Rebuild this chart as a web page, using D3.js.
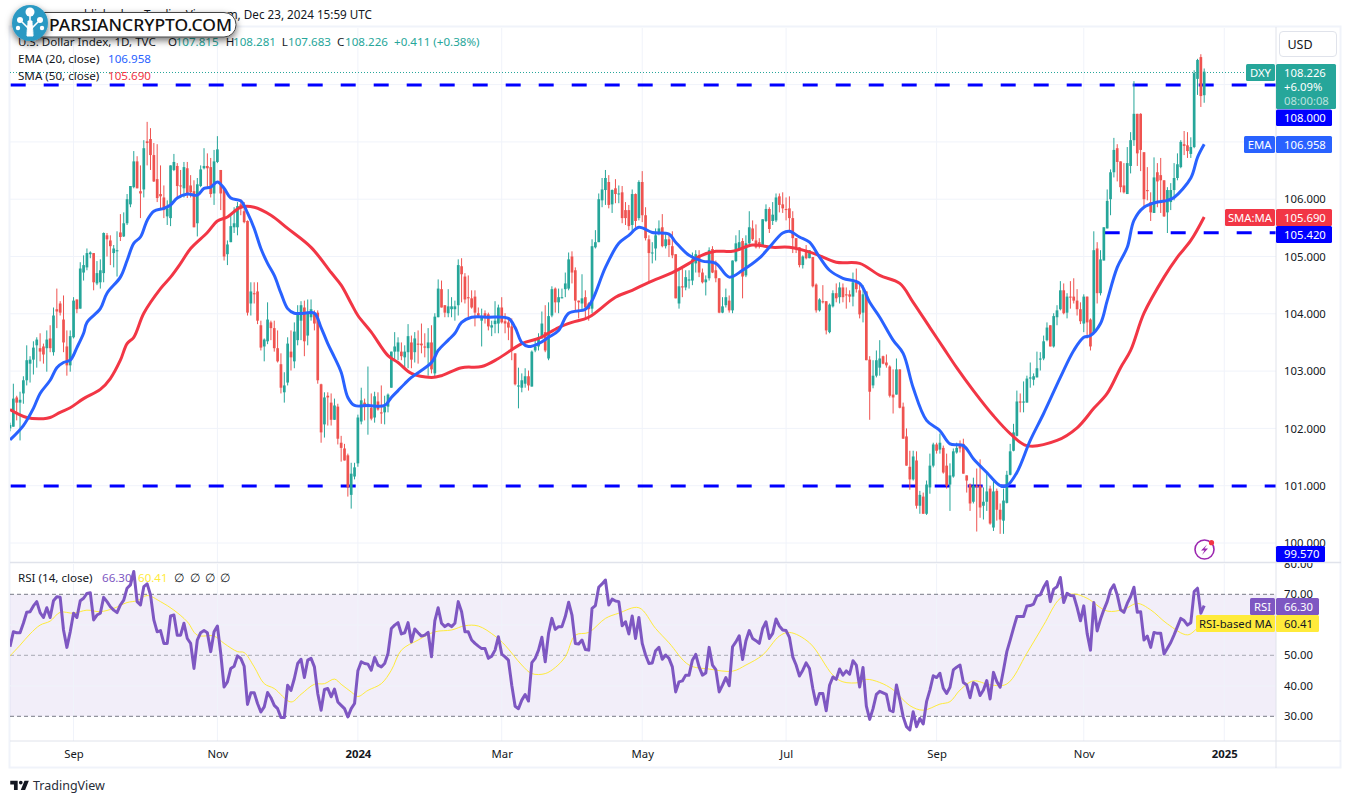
<!DOCTYPE html>
<html>
<head>
<meta charset="utf-8">
<script src="https://cdnjs.cloudflare.com/ajax/libs/d3/7.8.5/d3.min.js"></script>
<style>
html,body{margin:0;padding:0;background:#fff;overflow:hidden}
text{font-family:"Noto Sans",sans-serif}
</style>
</head>
<body>
<svg id="c" width="1351" height="803"></svg>
<script>
const opens=[
102.00,102.03,102.54,102.45,102.61,102.84,103.13,103.20,103.45,103.40,
103.43,103.40,103.57,103.33,104.08,104.18,103.90,103.43,103.10,103.59,
104.25,104.09,104.72,104.81,105.04,105.06,104.53,104.55,104.71,105.37,
105.28,105.06,105.09,105.42,105.35,105.58,105.91,106.21,106.66,106.14,
106.17,107.01,107.05,106.77,106.35,106.09,106.03,105.70,105.67,106.51,
106.58,106.24,106.19,106.54,106.24,106.14,105.58,106.23,106.54,106.58,
106.56,106.10,106.65,106.51,106.19,105.04,105.25,105.51,105.51,105.91,
105.79,105.62,104.18,104.36,104.39,103.80,103.43,103.52,103.85,103.75,
103.40,103.12,102.63,102.80,103.34,103.17,103.54,103.88,104.11,103.62,
103.94,104.02,104.02,102.77,102.07,102.57,102.45,102.15,102.38,101.75,
101.65,101.53,100.84,101.16,101.39,102.12,102.45,102.40,102.36,102.19,
102.47,102.28,102.28,102.38,102.71,103.34,103.34,103.34,103.24,103.33,
103.50,103.33,103.48,103.48,103.43,103.40,103.50,102.96,103.94,104.43,
104.15,104.01,104.08,104.08,104.15,104.83,104.65,104.29,104.27,104.30,
104.01,103.88,104.01,103.99,103.76,103.82,103.83,104.11,103.87,103.85,
103.78,103.31,102.73,102.71,102.78,102.91,102.73,103.36,103.43,103.57,
103.68,103.22,103.97,104.44,104.20,104.27,104.43,104.44,105.00,104.76,
104.23,104.18,104.29,104.18,104.09,105.16,105.25,105.98,106.16,106.30,
105.91,106.19,106.09,106.12,105.81,105.81,105.55,106.09,105.67,106.30,
105.72,105.30,105.06,105.14,105.41,105.51,105.18,105.30,105.18,105.04,
104.18,104.48,104.46,104.58,104.58,104.88,105.02,104.72,104.55,104.62,
105.13,104.76,104.62,104.02,104.15,104.23,104.06,104.92,105.11,105.27,
104.67,105.23,105.49,105.28,105.25,105.18,105.62,105.83,105.62,105.63,
106.05,105.91,105.83,105.84,105.67,105.32,105.16,104.85,105.11,104.97,
104.99,104.51,104.06,104.22,104.22,103.68,104.13,104.36,104.29,104.46,
104.34,104.34,104.30,104.55,104.41,104.02,104.39,103.20,102.75,102.92,
103.06,103.26,103.15,103.08,102.59,102.59,103.03,102.38,101.86,101.33,
101.11,101.44,100.65,100.81,100.51,100.97,101.35,101.72,101.63,101.66,
101.35,101.02,101.16,101.58,101.73,101.73,101.18,101.02,100.72,101.00,
101.00,100.65,100.72,100.95,100.27,100.91,100.58,100.39,100.70,101.19,
101.61,101.87,102.47,102.45,102.45,102.87,102.85,102.89,103.20,103.22,
103.54,103.80,103.43,103.94,104.08,104.41,104.02,104.30,104.30,104.23,
104.08,103.83,104.30,103.90,103.68,105.14,104.36,104.93,105.49,106.00,
106.47,106.89,106.66,106.24,106.09,106.58,107.03,107.49,107.49,106.82,
106.16,105.95,105.76,106.47,106.42,106.33,105.77,105.95,106.16,106.37,
106.56,106.96,106.94,106.79,106.91,108.10,108.48,107.815];
const highs=[
102.10,102.78,102.57,102.64,102.91,103.45,103.26,103.52,103.59,103.66,
103.48,103.71,103.80,104.11,104.44,104.22,104.32,103.71,103.71,104.29,
104.25,104.90,105.02,105.14,105.09,105.06,104.92,104.95,105.42,105.41,
105.37,105.20,105.44,105.74,105.77,106.09,106.23,106.84,106.75,106.59,
107.03,107.35,107.24,106.98,106.96,106.59,106.24,105.98,106.59,106.79,
106.63,106.51,106.65,106.65,106.42,106.33,106.37,106.59,106.89,106.80,
106.72,106.86,107.10,106.51,106.19,105.28,105.76,105.86,105.95,106.00,
105.95,105.63,104.55,104.55,104.55,103.88,103.57,104.20,103.88,103.88,
103.71,103.31,102.98,103.59,103.71,103.85,104.15,104.22,104.23,104.25,
104.25,104.06,104.06,102.78,102.63,102.63,102.61,102.52,102.43,101.87,
101.73,101.56,101.40,101.40,102.24,102.71,102.52,103.08,102.61,102.64,
102.63,102.75,102.57,102.61,103.34,103.68,103.59,103.50,103.45,103.82,
103.62,103.68,103.71,103.83,103.66,103.75,103.80,104.01,104.60,104.58,
104.15,104.43,104.29,104.23,104.95,104.97,104.71,104.67,104.41,104.41,
104.11,104.09,104.06,104.02,103.88,104.22,104.16,104.29,104.01,103.94,
103.92,103.31,103.06,102.96,103.05,103.01,103.36,103.57,103.66,104.04,
104.15,104.20,104.48,104.46,104.44,104.44,104.72,105.07,105.09,104.81,
104.23,104.69,104.41,104.20,105.30,105.46,106.10,106.37,106.51,106.42,
106.17,106.35,106.24,106.23,105.95,105.90,106.17,106.10,106.33,106.49,
105.86,105.37,105.25,105.49,105.63,105.74,105.41,105.37,105.44,105.04,
104.76,104.79,104.76,104.76,105.07,105.11,105.11,104.79,104.67,105.16,
105.18,104.93,104.62,104.29,104.44,104.32,104.93,105.37,105.46,105.32,
105.37,105.79,105.63,105.56,105.32,105.65,105.91,105.86,105.95,106.10,
106.10,106.12,106.03,106.05,105.79,105.32,105.16,105.02,105.20,105.11,
104.99,104.53,104.27,104.50,104.22,104.18,104.41,104.53,104.55,104.53,
104.46,104.41,104.72,104.79,104.53,104.50,104.39,103.26,103.19,103.36,
103.54,103.27,103.29,103.10,103.03,103.22,103.03,102.45,102.00,101.61,
101.61,101.60,100.91,100.88,101.09,101.56,101.75,101.75,101.91,101.70,
101.56,101.39,101.65,101.75,101.79,101.82,101.18,101.04,101.14,101.30,
101.46,100.97,101.21,101.00,101.12,100.95,100.69,100.95,101.26,101.73,
102.08,102.66,102.61,102.82,102.92,103.15,102.96,103.34,103.33,103.62,
103.85,103.80,104.01,104.15,104.57,104.53,104.36,104.57,104.62,104.43,
104.20,104.34,104.30,103.92,105.44,105.25,105.11,105.51,106.17,106.52,
107.07,106.96,106.66,106.63,106.91,107.17,108.06,107.49,107.50,106.82,
106.56,106.12,106.73,106.63,106.72,106.33,106.21,106.28,106.63,106.80,
107.03,107.19,107.17,107.08,108.25,108.45,108.53,108.281];
const lows=[
101.95,102.03,102.14,101.79,102.43,102.75,102.80,102.94,103.06,103.17,
103.13,102.99,103.33,103.27,103.75,103.97,103.33,102.92,102.99,103.57,
104.01,104.09,104.58,104.76,104.97,104.41,104.50,104.44,104.55,105.00,
104.85,104.81,104.65,105.27,105.34,105.55,105.86,106.19,106.19,105.67,
106.03,106.59,106.51,106.30,105.95,105.81,105.67,105.55,105.53,106.49,
106.02,106.02,106.03,106.02,106.03,105.51,105.35,106.21,106.52,106.21,
106.03,105.90,106.63,105.81,104.93,104.85,105.25,105.41,105.37,105.72,
105.58,103.97,103.97,104.18,103.82,103.36,103.17,103.47,103.54,103.34,
103.15,102.61,102.45,102.75,103.01,103.05,103.45,103.54,103.26,103.45,
103.88,103.71,102.78,101.75,101.84,102.05,102.05,102.15,101.72,101.42,
101.44,100.81,100.60,101.11,101.33,102.07,102.14,101.89,102.14,102.10,
102.31,102.08,102.07,102.28,102.71,103.19,103.19,103.19,103.06,103.05,
103.05,103.15,103.13,103.31,103.24,102.92,102.96,102.89,103.94,104.11,
103.94,103.94,103.94,103.88,103.97,104.20,104.18,103.94,104.09,103.78,
103.94,103.43,103.83,103.71,103.61,103.66,103.66,103.83,103.66,103.54,
103.19,102.75,102.35,102.63,102.71,102.66,102.73,103.33,103.36,103.57,
103.33,103.19,103.94,104.02,104.01,104.27,104.29,104.41,104.53,104.06,
103.92,104.06,103.94,103.88,104.01,105.14,105.25,105.86,105.90,105.84,
105.76,105.93,105.93,105.58,105.55,105.46,105.42,105.51,105.63,105.60,
105.28,104.53,104.88,104.93,105.37,105.16,105.14,104.99,104.97,104.27,
104.09,104.29,104.41,104.44,104.50,104.72,104.64,104.53,104.32,104.58,
104.71,104.55,104.01,104.01,104.11,104.02,104.01,104.90,105.11,104.27,
104.64,105.21,105.27,105.14,105.14,105.18,105.60,105.41,105.55,105.60,
105.77,105.76,105.63,105.42,105.06,105.06,104.81,104.79,104.95,104.97,
104.46,104.02,104.04,104.18,103.64,103.66,104.11,104.20,104.18,104.20,
104.09,104.20,104.13,104.37,103.92,103.85,103.19,102.15,102.70,102.89,
102.92,103.12,103.06,102.54,102.26,102.59,102.35,101.82,101.35,100.93,
101.09,100.60,100.51,100.51,100.49,100.86,101.32,101.56,101.56,101.21,
100.95,100.56,101.14,101.56,101.58,101.21,100.88,100.56,100.69,100.20,
100.44,100.41,100.56,100.32,100.21,100.39,100.16,100.16,100.69,101.18,
101.60,101.86,102.28,102.28,102.45,102.71,102.75,102.89,103.01,103.19,
103.52,103.43,103.41,103.80,104.06,103.99,103.92,104.09,104.18,103.97,
103.82,103.68,103.57,103.36,103.68,104.18,104.32,104.93,105.49,105.72,
106.38,106.31,106.12,106.10,106.09,106.45,106.93,106.58,106.49,105.86,
105.98,105.62,105.76,105.86,105.76,105.69,105.41,105.81,105.98,106.33,
106.54,106.77,106.72,106.72,106.89,107.82,107.61,107.683];
const closes=[
102.06,102.52,102.45,102.50,102.84,103.19,103.20,103.41,103.55,103.34,
103.29,103.55,103.40,103.97,104.04,104.02,103.50,103.10,103.61,104.23,
104.08,104.79,104.85,105.06,105.07,104.55,104.71,104.76,105.41,105.30,
105.18,105.14,105.11,105.34,105.58,106.00,106.23,106.66,106.19,106.10,
106.89,106.98,106.77,106.31,106.02,106.05,105.81,105.84,106.59,106.65,
106.23,106.23,106.56,106.10,106.12,105.51,106.26,106.52,106.58,106.54,
106.09,106.66,106.87,106.10,105.00,105.21,105.53,105.58,105.88,105.84,
105.60,104.02,104.39,104.34,103.88,103.41,103.55,103.90,103.75,103.40,
103.17,102.71,102.75,103.48,103.24,103.69,104.02,104.15,103.52,104.01,
104.08,103.83,102.84,101.93,102.54,102.54,102.15,102.40,101.82,101.66,
101.44,100.97,101.21,101.32,102.19,102.49,102.38,102.43,102.17,102.56,
102.33,102.26,102.38,102.59,103.34,103.43,103.50,103.26,103.34,103.61,
103.20,103.57,103.46,103.45,103.41,103.50,103.03,103.95,104.44,104.11,
104.02,104.13,104.13,104.13,104.85,104.69,104.25,104.27,104.11,104.02,
103.97,103.94,103.96,103.78,103.80,103.88,104.11,103.85,103.83,103.76,
103.36,102.77,102.75,102.84,102.91,102.75,103.34,103.43,103.59,103.83,
103.36,103.96,104.43,104.20,104.29,104.29,104.53,104.95,104.72,104.23,
104.20,104.27,104.11,104.08,105.18,105.25,106.00,106.17,106.37,105.90,
106.16,106.09,106.10,105.67,105.67,105.53,106.09,105.62,106.30,105.72,
105.32,105.06,105.07,105.37,105.49,105.18,105.30,105.20,105.02,104.27,
104.48,104.46,104.64,104.60,104.95,105.04,104.72,104.55,104.60,105.11,
104.72,104.62,104.02,104.13,104.29,104.06,104.93,105.23,105.25,104.65,
105.23,105.51,105.30,105.16,105.18,105.65,105.83,105.48,105.73,106.03,
105.90,105.84,105.81,105.67,105.32,105.16,104.85,105.00,104.97,105.11,
104.48,104.06,104.25,104.20,103.71,104.16,104.36,104.27,104.46,104.29,
104.32,104.30,104.55,104.43,103.99,104.34,103.19,102.64,102.92,103.19,
103.22,103.13,103.10,102.57,102.54,103.03,102.36,101.82,101.35,101.11,
101.51,100.65,100.84,100.51,101.02,101.35,101.72,101.61,101.75,101.23,
101.00,101.18,101.60,101.66,101.65,101.21,101.09,100.69,101.00,100.98,
100.62,100.72,100.90,100.34,100.90,100.58,100.41,100.74,101.19,101.60,
101.93,102.47,102.45,102.47,102.87,102.89,102.91,103.05,103.22,103.52,
103.76,103.43,103.96,104.06,104.41,104.01,104.30,104.29,104.23,104.08,
103.87,104.30,103.85,103.43,105.11,104.36,104.95,105.51,105.97,106.47,
106.86,106.65,106.21,106.12,106.63,107.03,107.49,106.80,106.86,106.00,
106.14,105.77,106.38,106.31,106.33,105.70,106.16,106.16,106.37,106.61,
107.00,106.93,106.84,106.91,108.20,108.43,107.80,108.226];

const emaBars=[0,4,7,9,12,14,16,18,20,22,23,27,29,33,35,37,39,41,43,46,48,50,53,56,58,60,62,64,66,69,71,73,75,77,79,81,83,85,88,91,93,95,97,99,101,103,107,112,114,116,118,120,126,128,131,133,135,138,143,149,151,153,155,158,161,164,167,172,174,178,182,185,188,192,197,199,203,207,211,215,219,224,227,231,233,236,239,242,245,249,254,257,260,264,267,270,274,278,281,285,288,292,296,298,301,305,309,314,318,321,323,326,328,331,334,336,339,343,346,348,353,355,357];
const emaValues=[101.80,102.05,102.35,102.61,102.84,103.06,103.15,103.19,103.41,103.66,103.85,104.09,104.36,104.64,104.93,105.23,105.34,105.63,105.79,105.84,105.90,106.02,106.09,106.07,106.19,106.21,106.30,106.19,106.02,105.97,105.76,105.49,105.14,104.88,104.67,104.36,104.09,104.01,104.01,104.01,103.76,103.48,103.24,102.98,102.54,102.40,102.40,102.40,102.54,102.66,102.78,102.89,103.15,103.36,103.54,103.66,103.85,103.94,103.94,103.92,103.76,103.50,103.43,103.48,103.59,103.71,104.01,104.08,104.23,104.81,105.23,105.37,105.51,105.42,105.39,105.25,105.02,104.92,104.88,104.64,104.76,104.97,105.16,105.41,105.44,105.34,105.25,104.99,104.76,104.62,104.53,104.20,103.94,103.54,103.31,102.71,102.14,101.96,101.73,101.70,101.47,101.23,101.00,101.00,101.23,101.79,102.26,102.89,103.36,103.59,103.62,103.83,104.23,104.81,105.16,105.63,105.86,105.95,105.98,106.03,106.37,106.73,106.958];
const smaBars=[0,5,10,12,15,18,22,27,30,33,35,37,40,45,48,51,54,59,62,65,69,73,78,83,90,96,99,102,104,108,113,116,120,126,129,135,141,146,153,158,164,168,173,181,186,191,198,203,206,211,216,222,228,233,240,247,254,260,266,270,275,279,283,288,294,299,304,313,319,324,328,332,335,339,345,349,353,357];
const smaValues=[102.33,102.19,102.17,102.19,102.28,102.36,102.52,102.68,102.87,103.19,103.48,103.59,104.01,104.44,104.64,104.88,105.14,105.42,105.62,105.69,105.86,105.86,105.72,105.49,105.16,104.72,104.50,104.18,103.97,103.68,103.27,103.15,102.96,102.89,102.92,103.06,103.08,103.22,103.48,103.57,103.76,103.85,103.94,104.29,104.41,104.55,104.72,104.88,105.00,105.09,105.09,105.20,105.16,105.16,105.06,104.90,104.88,104.67,104.53,104.20,103.76,103.41,103.06,102.66,102.22,101.91,101.70,101.79,102.01,102.35,102.61,103.06,103.36,104.01,104.64,104.99,105.28,105.690];

const rsiValues=[
52.8,57.7,57.4,57.4,60.5,64.1,64.3,66.2,67.6,64.0,
62.4,65.6,62.4,67.9,69.2,69.0,58.3,52.6,57.7,63.8,
62.4,67.9,68.7,70.3,70.5,61.6,63.2,63.8,69.0,67.6,
65.9,64.8,64.0,66.5,68.1,72.0,73.1,77.5,67.6,66.5,
72.5,73.4,69.8,61.6,57.7,58.1,53.9,53.9,62.9,63.2,
56.6,56.6,60.5,55.5,53.9,45.7,55.0,57.4,58.1,57.4,
51.2,57.7,59.6,50.6,39.6,41.3,45.7,46.4,49.8,49.0,
46.4,33.9,37.7,37.7,34.2,31.4,33.1,37.8,36.1,33.6,
32.5,29.6,29.6,40.2,38.5,42.4,47.3,48.7,42.7,48.4,
49.0,46.2,37.5,32.0,38.8,39.1,36.4,38.9,34.7,33.6,
32.5,29.8,32.5,34.2,44.9,47.9,47.3,47.1,45.1,49.3,
46.8,46.2,47.3,50.6,58.8,59.9,60.7,57.0,57.4,60.7,
54.4,58.6,57.4,56.3,56.6,57.5,49.5,61.3,65.6,60.5,
59.4,60.2,59.4,60.5,67.6,64.3,57.7,57.7,55.0,53.9,
53.0,52.2,52.2,49.0,49.7,51.7,56.1,50.4,49.5,48.4,
40.2,33.3,32.5,35.3,37.1,35.0,47.6,49.0,51.7,55.9,
47.9,57.2,62.1,58.5,59.4,59.4,62.7,67.4,63.2,53.9,
53.7,55.0,51.9,51.7,65.4,66.3,72.3,73.4,74.7,66.5,
68.4,67.8,67.6,59.7,61.0,57.0,62.9,55.5,62.4,53.9,
50.1,47.3,47.5,51.5,52.6,48.7,50.1,49.0,46.2,38.0,
41.3,41.6,43.5,43.5,48.4,50.3,46.2,43.5,44.2,52.6,
46.8,45.3,38.0,40.2,42.7,40.0,52.8,54.4,56.4,48.6,
54.8,58.1,55.5,54.8,53.9,58.8,61.0,55.5,57.2,61.9,
59.6,58.3,58.1,55.9,49.5,46.8,43.2,45.1,47.5,45.7,
39.1,33.9,37.5,37.5,31.8,40.2,42.9,42.1,45.5,43.5,
44.9,43.8,48.2,46.8,39.6,46.0,33.3,29.0,32.5,37.2,
38.2,37.7,37.2,32.0,31.5,40.3,35.4,29.9,26.6,25.5,
31.5,26.6,29.3,27.5,34.8,38.6,43.3,42.7,44.1,39.2,
37.5,39.5,45.2,46.1,46.8,41.1,40.3,36.1,41.0,40.3,
36.8,38.6,41.7,35.7,44.4,41.4,39.5,45.2,51.2,55.0,
58.9,62.7,62.7,62.7,66.2,66.3,66.8,69.5,69.8,72.3,
74.2,67.6,71.7,72.5,75.5,67.3,70.3,69.6,69.5,65.7,
61.3,66.2,57.2,51.7,67.3,58.0,61.8,64.9,67.6,71.4,
73.1,69.8,64.9,64.1,67.0,69.2,72.3,64.1,64.3,55.0,
56.3,52.6,57.5,57.2,57.2,50.4,52.3,54.2,56.7,59.4,
62.1,61.4,59.9,60.7,70.9,72.0,63.8,66.30];
const rsiMaBars=[0,3,6,9,12,15,19,23,27,31,35,38,41,45,49,53,56,61,64,68,70,73,76,79,84,87,91,94,97,99,102,104,107,111,114,117,122,127,132,136,140,145,148,153,156,160,163,166,169,173,178,182,188,193,197,203,209,216,220,225,230,233,239,246,249,254,256,260,264,269,273,278,281,284,288,293,298,304,309,314,318,322,328,333,337,341,346,352,355,357];
const rsiMaValues=[49.8,53.3,57.0,59.9,61.2,64.1,63.8,64.8,64.3,65.4,67.3,67.9,69.6,67.6,64.8,61.0,56.6,56.3,53.9,51.2,50.9,46.2,40.7,39.1,34.7,37.2,40.5,40.7,42.2,40.5,38.0,36.5,38.5,40.7,45.1,51.7,55.0,57.7,58.3,59.7,59.6,56.3,53.3,46.8,44.0,44.0,46.0,49.5,56.6,57.5,62.1,63.8,65.6,58.8,54.1,46.8,45.5,44.8,46.8,50.1,56.3,57.5,54.1,43.5,41.3,41.1,42.1,41.1,38.7,33.5,32.0,34.0,34.8,38.6,41.6,40.3,40.6,50.7,59.9,68.7,70.1,68.7,64.5,65.1,67.0,64.9,60.3,56.7,58.9,60.41];

const priceTicks=[100,101,102,103,104,105,106];
const rsiTicks=[30,40,50,60,70,80];
const timeBars=[19,62,104,147,189,232,277,321,363];
const timeLabels=["Sep","Nov","2024","Mar","May","Jul","Sep","Nov","2025"];
const keyLevels=[108,105.42,101];

const UP="#26a69a",DOWN="#ef5350",BLUE="#2962ff",RED="#f23645",PUR="#7e57c2",YEL="#ffeb3b",INK="#131722",GRID="#f0f3fa",EDGE="#e0e3eb";
const L=10,R=1276,T=28,PB=562,RT=564,RB=741;
const svg=d3.select("#c");
const x=d3.scaleLinear().domain([0,opens.length-1]).range([10,1204.2]);
const y=d3.scaleLinear().domain([100,106]).range([543,199.2]);
const ry=d3.scaleLinear().domain([30,70]).range([716.3,594.3]);
const defs=svg.append("defs");
defs.append("clipPath").attr("id","cp").append("rect").attr("x",L).attr("y",T).attr("width",R-L).attr("height",PB-T);
defs.append("clipPath").attr("id","cr").append("rect").attr("x",L).attr("y",RT).attr("width",R-L).attr("height",RB-RT);
defs.append("clipPath").attr("id","ca").append("rect").attr("x",R).attr("y",RT-1).attr("width",66).attr("height",RB-RT+1);
const sh=defs.append("filter").attr("id","sh").attr("x","-20%").attr("y","-40%").attr("width","140%").attr("height","200%");
sh.append("feDropShadow").attr("dx",0).attr("dy",3).attr("stdDeviation",3.5).attr("flood-color","#000").attr("flood-opacity",.55);

// frame
svg.append("rect").attr("x",9.5).attr("y",26.5).attr("width",1331).attr("height",741).attr("fill","none").attr("stroke",GRID).attr("stroke-width",2);

// price grid
const pg=svg.append("g").attr("clip-path","url(#cp)");
pg.selectAll(".h").data(priceTicks.concat([107,108])).join("line").attr("x1",L).attr("x2",R).attr("y1",d=>y(d)).attr("y2",d=>y(d)).attr("stroke",GRID).attr("stroke-width",1);
pg.selectAll(".v").data(timeBars).join("line").attr("x1",d=>x(d)).attr("x2",d=>x(d)).attr("y1",T).attr("y2",PB).attr("stroke",GRID);

// rsi pane
const rg=svg.append("g").attr("clip-path","url(#cr)");
rg.append("rect").attr("x",L).attr("width",R-L).attr("y",ry(70)).attr("height",ry(30)-ry(70)).attr("fill","#7e57c2").attr("fill-opacity",.1);
rg.selectAll(".h").data([40,60]).join("line").attr("x1",L).attr("x2",R).attr("y1",d=>ry(d)).attr("y2",d=>ry(d)).attr("stroke",GRID);
rg.selectAll(".v").data(timeBars).join("line").attr("x1",d=>x(d)).attr("x2",d=>x(d)).attr("y1",RT).attr("y2",RB).attr("stroke",GRID);
rg.selectAll(".d").data([70,50,30]).join("line").attr("x1",L).attr("x2",R).attr("y1",d=>ry(d)).attr("y2",d=>ry(d)).attr("stroke","#787b86").attr("stroke-opacity",d=>d===50?.6:1).attr("stroke-dasharray","4 3");

// separators
svg.append("line").attr("x1",L).attr("x2",1341).attr("y1",562.5).attr("y2",562.5).attr("stroke",EDGE).attr("stroke-width",1.5);
svg.append("line").attr("x1",L).attr("x2",1341).attr("y1",741).attr("y2",741).attr("stroke",EDGE);
svg.append("line").attr("x1",R).attr("x2",R).attr("y1",27).attr("y2",768).attr("stroke",EDGE);

// key levels
const lv=pg.append("g");
lv.selectAll("line").data(keyLevels).join("line").attr("x1",d=>d===105.42?1104.7:10.7).attr("x2",R)
  .attr("y1",d=>y(d)+.4).attr("y2",d=>y(d)+.4).attr("stroke","#0000ff").attr("stroke-width",3).attr("stroke-dasharray","15 18");

// last price dotted
const lastY=Math.round(y(closes[closes.length-1]))+.5;
pg.append("line").attr("x1",L).attr("x2",1246).attr("y1",lastY).attr("y2",lastY).attr("stroke",UP).attr("stroke-dasharray","1 2");

// candles
const idx=d3.range(opens.length);
const col=i=>closes[i]>=opens[i]?UP:DOWN;
const cg=pg.append("g");
cg.selectAll(".w").data(idx).join("line").attr("x1",x).attr("x2",x).attr("y1",i=>y(highs[i])).attr("y2",i=>y(lows[i])).attr("stroke",col).attr("stroke-width",1);
cg.selectAll(".b").data(idx).join("rect").attr("x",i=>x(i)-1.35).attr("width",2.7)
  .attr("y",i=>y(Math.max(opens[i],closes[i]))).attr("height",i=>Math.max(1,Math.abs(y(opens[i])-y(closes[i])))).attr("fill",col);

// moving averages
const mk=(bars,vals,ys)=>d3.line().x((d,i)=>x(bars[i])).y(d=>ys(d)).curve(d3.curveCatmullRom.alpha(.5))(vals);
pg.append("path").attr("d",mk(smaBars,smaValues,y)).attr("fill","none").attr("stroke",RED).attr("stroke-width",3).attr("stroke-linejoin","round");
pg.append("path").attr("d",mk(emaBars,emaValues,y)).attr("fill","none").attr("stroke",BLUE).attr("stroke-width",3).attr("stroke-linejoin","round");

// rsi
rg.append("path").attr("d",mk(rsiMaBars,rsiMaValues,ry)).attr("fill","none").attr("stroke",YEL).attr("stroke-width",1);
rg.append("path").attr("d",d3.line().x((d,i)=>x(i)).y(d=>ry(d))(rsiValues)).attr("fill","none").attr("stroke",PUR).attr("stroke-width",3).attr("stroke-linejoin","round");

// axes
const styleAxis=g=>{g.select(".domain").remove();g.selectAll("line").remove();g.selectAll("text").attr("fill",INK).attr("font-size",11.3).attr("font-family",'"Noto Sans",sans-serif');};
svg.append("g").attr("transform",`translate(${R},0)`).call(d3.axisRight(y).tickValues(priceTicks).tickFormat(d3.format(".3f")).tickSize(0).tickPadding(8)).call(styleAxis);
svg.append("g").attr("clip-path","url(#ca)").append("g").attr("transform",`translate(${R},0)`).call(d3.axisRight(ry).tickValues(rsiTicks).tickFormat(d3.format(".2f")).tickSize(0).tickPadding(8)).call(styleAxis);
svg.append("g").attr("transform",`translate(0,${RB+4})`).call(d3.axisBottom(x).tickValues(timeBars).tickFormat((d,i)=>timeLabels[i]).tickSize(0).tickPadding(5)).call(styleAxis)
  .selectAll("text").attr("font-weight",(d,i)=>/^20/.test(timeLabels[i])?700:400);

// tags
function label(tx,cy,txt,color,anchor,size,weight){
  return svg.append("text").attr("x",tx).attr("y",cy).attr("dy","0.36em").attr("fill",color||"#fff").attr("text-anchor",anchor||"start").attr("font-size",size||11.3).attr("font-weight",weight||400).text(txt);
}
function tag(x0,x1,y0,y1,fill,txt,tx,color,anchor){
  svg.append("rect").attr("x",x0).attr("y",y0).attr("width",x1-x0).attr("height",y1-y0).attr("fill",fill).attr("rx",1.5);
  if(txt)label(tx,(y0+y1)/2,txt,color,anchor);
}
// USD button
svg.append("rect").attr("x",1279.5).attr("y",31.5).attr("width",57).attr("height",25).attr("rx",3.5).attr("fill","#fff").attr("stroke",EDGE);
label(1300,44,"USD",INK,"middle",12.5);
// last price
tag(1246,1275,64,81,UP,"DXY",1260.5,"#fff","middle");
tag(1276,1336,64,109,UP);
label(1284,72.5,"108.226","#fff");
label(1284,87,"+6.09%","#fff");
label(1284,101,"08:00:08","#b9e2de");
tag(1276,1332,109.5,126,"#0000ff","108.000",1284,"#fff");
tag(1244,1275,136,153,BLUE,"EMA",1259.5,"#fff","middle");
tag(1276,1332,136,153,BLUE,"106.958",1284,"#fff");
tag(1225,1275,209,226,RED,"SMA:MA",1250,"#fff","middle");
tag(1276,1332,209,226,RED,"105.690",1284,"#fff");
tag(1276,1332,226,243,"#0000ff","105.420",1284,"#fff");
tag(1276,1325,546,562,"#0000ff","99.570",1284,"#fff");
tag(1250,1275,598,615,PUR,"RSI",1262.5,"#fff","middle");
tag(1276,1319,598,615,PUR,"66.30",1284,"#fff");
tag(1196,1275,615,632,YEL,"RSI-based MA",1235.5,INK,"middle");
tag(1276,1319,615,632,YEL,"60.41",1284,INK);

// legends
label(372,15,"published on TradingView.com, Dec 23, 2024 15:59 UTC",INK,"end",11.7);
const FS=11.6;
label(18,42,"U.S. Dollar Index, 1D, TVC",INK,"start",FS);
[[168,"O",175.7,"107.815"],[225.7,"H",233,"108.281"],[281.7,"L",288,"107.683"],[337,"C",345,"108.226"]].forEach(p=>{label(p[0],42,p[1],INK,"start",FS);label(p[2],42,p[3],UP,"start",FS);});
label(394,42,"+0.411 (+0.38%)",UP,"start",FS);
label(18,59,"EMA (20, close)",INK,"start",FS);label(108,59,"106.958",BLUE,"start",FS);
label(18,76,"SMA (50, close)",INK,"start",FS);label(108,76,"105.690",RED,"start",FS);
label(18,578,"RSI (14, close)",INK,"start",FS);label(102,578,"66.30",PUR,"start",FS);label(138,578,"60.41",YEL,"start",FS);
[179,195,210,225].forEach(a=>label(a,578,"∅",INK,"middle",FS));

// flash icon
const fl=svg.append("g").attr("transform","translate(1204.5,549.5)");
fl.append("circle").attr("r",9.5).attr("fill","#fff").attr("stroke","#9c27b0").attr("stroke-width",1.6);
fl.append("path").attr("d","M2.5,-5 L-3.5,1 L0,1 L-2.5,5.5 L3.5,-1 L0,-1 Z").attr("fill","#9c27b0");
fl.append("circle").attr("cx",7).attr("cy",-6.8).attr("r",2.6).attr("fill",RED);

// watermark
const wm=svg.append("g");
wm.append("rect").attr("x",30).attr("y",12.5).attr("width",206).attr("height",24.5).attr("rx",12).attr("fill","#fff").attr("stroke","#444").attr("stroke-width",1).attr("filter","url(#sh)");
wm.append("circle").attr("cx",30).attr("cy",23).attr("r",18).attr("fill","#2b99c3").attr("filter","url(#sh)");
const tr=wm.append("g").attr("transform","translate(30,23)").attr("fill","#fff").attr("stroke","#fff");
tr.append("path").attr("d","M-3,13 C-3,6 -2,3 -2,-2 L2,-2 C2,3 3,6 3,13 Z");
tr.selectAll(".l").data([[-8,-1,-1,6],[8,-1,1,6],[0,-8,0,0]]).join("line").attr("x1",d=>d[0]).attr("y1",d=>d[1]).attr("x2",d=>d[2]).attr("y2",d=>d[3]).attr("stroke-width",1.6);
tr.selectAll(".c").data([[0,-11,4.5],[-10,-3,3],[10,-3,3],[-12,5,2.2],[12,5,2.2]]).join("circle").attr("cx",d=>d[0]).attr("cy",d=>d[1]).attr("r",d=>d[2]).attr("stroke","none");
wm.append("text").attr("x",49).attr("y",25).attr("dy","0.36em").attr("font-size",17).attr("font-weight",500).attr("fill","#111").attr("textLength",183).attr("lengthAdjust","spacingAndGlyphs").text("PARSIANCRYPTO.COM");

// footer
svg.append("path").attr("d","M14 6H2v6h6v9h6V6Zm12 15h-7l6-15h7l-6 15Zm-7-9a3 3 0 1 0 0-6 3 3 0 0 0 0 6Z").attr("transform","translate(9,777) scale(.62)").attr("fill",INK);
label(33,785,"TradingView","#2a2e39","start",12.5);

if(new Set([opens.length,highs.length,lows.length,closes.length,rsiValues.length]).size!==1) throw new Error("len "+[opens.length,highs.length,lows.length,closes.length,rsiValues.length]);
if(emaBars.length!==emaValues.length||smaBars.length!==smaValues.length||rsiMaBars.length!==rsiMaValues.length) throw new Error("len2 "+[emaBars.length,emaValues.length,smaBars.length,smaValues.length,rsiMaBars.length,rsiMaValues.length]);
</script>
</body>
</html>
